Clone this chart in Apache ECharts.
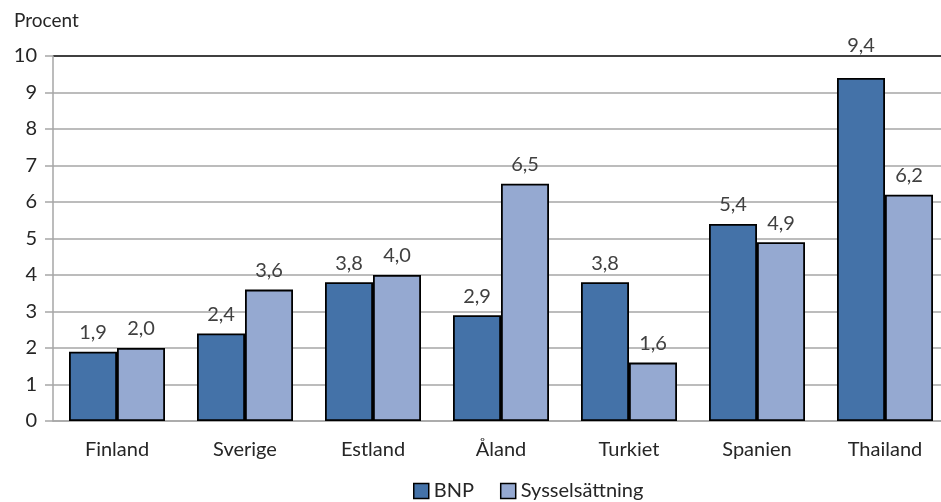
<!DOCTYPE html>
<html><head><meta charset="utf-8">
<script src="https://cdn.jsdelivr.net/npm/echarts@6/dist/echarts.min.js"></script>
<style>html,body{margin:0;padding:0;background:#fff}#c{width:941px;height:502px}</style>
</head><body><div id="c"></div>
<script>
const categories = ['Finland','Sverige','Estland','Åland','Turkiet','Spanien','Thailand'];
const bnp = [1.9, 2.4, 3.8, 2.9, 3.8, 5.4, 9.4];
const syss = [2.0, 3.6, 4.0, 6.5, 1.6, 4.9, 6.2];
const seriesNames = ['BNP','Sysselsättning'];
const FONT = 'Lato, "Liberation Sans", sans-serif';
const chart = echarts.init(document.getElementById('c'));
const gridColors = [];
for (let i = 0; i < 10; i++) gridColors.push('#a6a6a6');
gridColors.push('#000000');
const lbl = {show:true, position:'top', distance:9, color:'#404040', fontSize:20, fontFamily:FONT,
  formatter: p => p.value.toFixed(1).replace('.', ',')};
// labels near the top of the axis are lifted above the top gridline
const toData = arr => arr.map(v => v > 9 ? {value:v, label:{distance:22}} : v);
chart.setOption({
  animation:false,
  textStyle:{fontFamily:FONT},
  graphic:[{type:'text', left:14, top:11, style:{text:'Procent', fontSize:19, fill:'#262626', fontFamily:FONT}}],
  grid:{left:53, width:896, top:56, bottom:81, containLabel:false, outerBoundsMode:'none'},
  legend:{bottom:-4, left:408, itemWidth:15, itemHeight:15, itemGap:26, icon:'rect',
    itemStyle:{borderColor:'#000', borderWidth:1.5},
    textStyle:{fontSize:20, color:'#262626', fontFamily:FONT}},
  xAxis:{type:'category', data:categories,
    axisLine:{lineStyle:{color:'#a6a6a6', width:1.5}}, axisTick:{show:false},
    axisLabel:{fontSize:20, color:'#262626', margin:19, fontFamily:FONT}},
  yAxis:{type:'value', min:0, max:10, interval:1,
    axisLine:{show:true, lineStyle:{color:'#a6a6a6', width:1.5}},
    axisTick:{show:true, length:8, lineStyle:{color:'#a6a6a6', width:1.5}},
    axisLabel:{fontSize:20, color:'#262626', margin:16, fontFamily:FONT},
    splitLine:{lineStyle:{color:gridColors, width:1.5}}},
  series:[
    {name:seriesNames[0], type:'bar', data:toData(bnp), barGap:'0%', barCategoryGap:'25%',
     itemStyle:{color:'#4472a8', borderColor:'#000', borderWidth:1.8}, label:lbl},
    {name:seriesNames[1], type:'bar', data:toData(syss),
     itemStyle:{color:'#95a9d1', borderColor:'#000', borderWidth:1.8}, label:lbl}
  ]
});
</script></body></html>
